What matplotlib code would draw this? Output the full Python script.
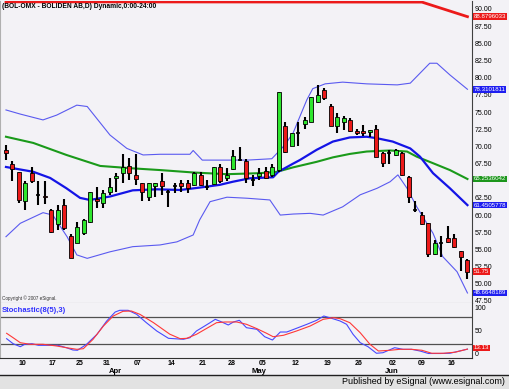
import numpy as np
import matplotlib
matplotlib.use('Agg')
import matplotlib.pyplot as plt
import matplotlib.transforms as mtransforms
from matplotlib.patches import Rectangle
from matplotlib.lines import Line2D

# daily OHLC, one entry per trading day
opens = [69.5, 67.5, 66.2, 62.0, 66.1, 62.9, 62.8, 60.7, 58.7, 61.4,
         56.9, 56.0, 57.4, 59.0, 62.4, 61.8, 63.3, 65.4, 66.1, 67.1,
         65.8, 64.6, 62.7, 64.3, 64.9, 63.4, 64.3, 64.6, 64.6, 64.4,
         65.8, 64.1, 64.5, 67.0, 65.4, 66.7, 68.0, 67.9, 65.1, 65.7,
         66.4, 65.8, 66.6, 72.9, 70.1, 72.0, 73.3, 73.6, 76.4, 78.2,
         75.9, 73.0, 73.5, 73.9, 72.3, 72.2, 72.1, 72.6, 69.1, 69.0,
         68.7, 69.1, 65.6, 60.8, 60.0, 58.9, 54.3, 56.0, 56.6, 56.6,
         54.7, 53.4]
highs = [70.2, 67.9, 66.3, 64.9, 67.0, 64.9, 64.9, 60.9, 61.4, 62.4,
         57.3, 59.0, 59.5, 63.4, 64.1, 63.7, 65.4, 66.1, 68.9, 68.3,
         68.9, 64.6, 64.6, 64.6, 66.1, 63.7, 64.6, 65.1, 65.1, 66.3,
         66.2, 65.1, 67.0, 67.4, 66.8, 69.5, 69.9, 68.2, 65.8, 66.8,
         67.0, 67.5, 77.9, 73.5, 72.0, 73.5, 74.3, 77.2, 78.9, 78.5,
         76.2, 74.9, 74.4, 74.2, 72.6, 73.1, 72.4, 73.1, 69.2, 69.4,
         69.6, 69.2, 65.7, 62.0, 60.4, 58.9, 56.4, 56.9, 58.4, 57.3,
         54.8, 53.6]
lows = [68.0, 64.9, 61.7, 60.7, 64.7, 61.5, 61.6, 57.4, 57.8, 57.8,
        53.7, 55.9, 57.1, 58.8, 61.0, 61.0, 62.9, 63.4, 64.7, 65.1,
        64.4, 62.1, 62.0, 62.7, 62.9, 61.2, 63.2, 63.4, 63.2, 64.2,
        64.2, 63.6, 64.4, 64.7, 64.9, 66.6, 67.8, 64.7, 64.2, 65.1,
        65.3, 65.6, 66.3, 69.1, 70.0, 70.1, 72.5, 73.5, 76.3, 76.8,
        72.9, 72.0, 72.4, 72.1, 71.7, 71.5, 71.4, 68.4, 67.0, 67.5,
        68.6, 65.7, 61.7, 60.5, 58.6, 53.9, 54.2, 53.9, 56.0, 55.2,
        51.9, 50.7]
closes = [69.0, 66.7, 62.2, 64.7, 64.9, 62.9, 62.6, 57.5, 60.8, 58.1,
          53.8, 58.2, 59.3, 63.4, 62.0, 63.2, 64.1, 65.7, 67.0, 66.1,
          65.3, 63.3, 64.6, 64.6, 64.2, 63.4, 64.3, 64.2, 63.9, 66.1,
          64.4, 64.1, 67.0, 64.9, 65.8, 68.6, 68.0, 65.4, 65.1, 66.1,
          65.4, 67.0, 77.9, 69.2, 72.0, 72.0, 73.9, 77.2, 77.5, 77.1,
          72.9, 74.3, 74.1, 72.3, 72.0, 71.9, 72.4, 68.5, 67.6, 69.0,
          69.4, 65.8, 62.7, 60.8, 58.7, 54.4, 56.0, 56.0, 56.1, 55.4,
          53.9, 51.75]

# study lines (x = bar number)
ma_x = [0, 4.2, 6.8, 9.3, 11.4, 12.9, 16.0, 19.5, 23.2, 26.8, 29.8, 32.9,
        34.9, 37.5, 41.1, 41.9, 44.2, 45.2, 47.8, 50.3, 52.9, 55.5, 57.0,
        59.5, 62.2, 63.7, 65.7, 68.3, 71]
ma_vals = [67.0, 66.3, 65.4, 63.9, 62.5, 62.2, 62.7, 63.6, 63.75, 63.65,
           64.0, 64.4, 64.85, 65.35, 65.5, 66.3, 67.5, 68.0, 69.5, 70.7,
           71.3, 71.4, 71.2, 70.7, 69.7, 68.5, 66.1, 63.9, 61.45]

slow_x = [0, 4.2, 9.3, 14.5, 19.5, 23.7, 28.8, 34.0, 39.1, 41.7, 44.2, 47.8,
          50.3, 52.9, 55.5, 59.1, 61.7, 63.2, 65.7, 68.3, 71]
slow_vals = [71.4, 70.5, 68.75, 67.15, 66.8, 66.55, 66.2, 65.95, 66.1, 66.3,
             66.95, 67.75, 68.4, 68.9, 69.25, 69.4, 69.25, 68.5, 67.55,
             66.55, 65.25]

upper_x = [0, 2.2, 5.7, 7.8, 10.9, 12.5, 16.0, 18.6, 21.1, 23.7, 28.3, 28.8,
           30.2, 37.1, 40.9, 42.9, 44.2, 45.2, 46.3, 47.2, 49.1, 51.8, 55.5,
           60.2, 62.2, 65.2, 66.3, 68.3, 71]
upper_vals = [75.3, 74.7, 73.85, 74.55, 76.0, 75.8, 71.65, 69.7, 68.75, 68.85,
              68.85, 69.4, 68.0, 68.0, 68.2, 70.2, 72.0, 74.3, 76.8, 78.4,
              79.1, 79.35, 79.1, 78.95, 79.2, 82.1, 82.1, 80.4, 78.31]

lower_x = [0, 2.2, 5.7, 7.2, 9.4, 10.9, 12.5, 16.0, 19.5, 23.7, 26.3, 28.8,
           29.8, 31.4, 34.0, 37.1, 40.6, 42.2, 44.2, 46.8, 48.8, 51.8, 54.5,
           57.1, 59.1, 60.3, 61.7, 63.2, 65.7, 67.2, 69.4, 71]
lower_vals = [56.85, 58.8, 60.35, 60.0, 56.85, 54.2, 53.7, 54.65, 55.4, 55.65,
              56.1, 57.1, 59.3, 61.95, 62.6, 62.45, 62.2, 60.0, 60.15, 60.25,
              60.0, 61.2, 62.95, 63.9, 64.85, 65.85, 63.9, 61.2, 57.35, 53.95,
              51.75, 48.66]

red_x = [0, 64, 71]
red_vals = [92.0, 91.0, 88.88]

# stochastic %K / %D
k_x = [0.1, 1.1, 2.2, 2.9, 4.0, 5.0, 6.8, 8.0, 9.3, 10.3, 11.0, 12.4, 14.0,
       15.5, 16.8, 17.5, 18.8, 20.1, 21.6, 23.2, 25.0, 27.3, 28.3, 29.3,
       30.4, 31.4, 32.2, 33.2, 34.2, 35.0, 35.9, 37.0, 38.6, 39.8, 41.0,
       42.2, 43.2, 44.7, 46.3, 47.8, 48.9, 49.8, 51.4, 52.4, 53.4, 54.5,
       55.7, 57.0, 58.0, 59.8, 61.1, 62.4, 63.7, 65.0, 66.8, 68.3, 69.8, 71]
k_vals = [32.2, 21.3, 14.8, 20.0, 21.3, 17.8, 17.8, 17.8, 12.6, 7.6, 7.0,
          20.0, 41.7, 70.7, 90.2, 93.9, 93.9, 85.2, 67.0, 48.9, 33.0, 30.9,
          34.3, 48.9, 58.3, 67.0, 74.3, 68.5, 62.0, 68.5, 72.2, 56.1, 52.6,
          36.5, 29.3, 46.7, 46.7, 54.8, 63.5, 72.2, 81.5, 77.8, 70.7, 63.5,
          41.7, 23.5, 14.8, 0.5, 1.7, 12.6, 9.1, 9.1, 5.4, 0.0, 0.0, 0.5,
          5.4, 9.5]
d_x = [0.1, 1.1, 2.2, 3.7, 5.7, 7.8, 9.3, 10.9, 11.9, 13.4, 15.0, 16.5,
       18.0, 19.3, 20.6, 22.7, 25.2, 26.8, 27.8, 29.3, 30.9, 32.4, 33.7,
       35.5, 37.0, 38.6, 40.1, 41.1, 42.7, 44.7, 46.8, 48.8, 50.4, 51.4,
       52.9, 54.5, 56.0, 57.3, 59.1, 60.6, 62.4, 64.0, 65.5, 67.3, 69.1, 71]
d_vals = [43.9, 34.3, 23.5, 20.0, 20.0, 16.3, 12.6, 9.1, 10.4, 30.9, 59.8,
          81.5, 91.7, 92.4, 85.2, 67.0, 42.0, 32.2, 33.0, 41.7, 54.8, 67.0,
          68.5, 68.5, 63.5, 54.0, 43.9, 36.5, 39.6, 48.9, 59.8, 74.3, 77.8,
          75.7, 67.0, 45.2, 20.0, 5.4, 7.0, 9.1, 9.1, 7.0, 0.5, 0.5, 2.8, 9.5]

tick_pos = [2.5, 7.1, 11.4, 15.5, 20.3, 25.5, 30.3, 34.8, 39.5, 44.6, 49.5,
            54.3, 59.5, 64.0, 68.6]
tick_labels = ['10', '17', '25', '31', '07', '14', '21', '28', '05', '12',
               '19', '26', '02', '09', '16']
months = ['Apr', 'May', 'Jun']
month_pos = [16.8, 38.9, 59.4]

BG = '#F3F2F6'
RED = '#EC1A1A'
GREEN = '#2EE62E'
W, H = 509, 389


def rect(x0, y0, x1, y1):
    return [x0 / W, 1 - y1 / H, (x1 - x0) / W, (y1 - y0) / H]


fig = plt.figure(figsize=(W / 100, H / 100), dpi=100)
fig.patch.set_facecolor(BG)
plt.rcParams['font.family'] = ['Liberation Sans', 'DejaVu Sans']

ax = fig.add_axes(rect(0, 1, 472, 303))
axs = fig.add_axes(rect(0, 303, 472, 358), sharex=ax)
for a in (ax, axs):
    a.set_facecolor(BG)
    a.spines['top'].set_visible(False)
    a.spines['left'].set_color('#B0B0B0')
    a.spines['right'].set_color('#404040')
    a.yaxis.tick_right()
    a.tick_params(axis='y', length=0, pad=2, labelsize=5)
ax.spines['bottom'].set_color('#A0A0A0')
axs.spines['bottom'].set_color('#303030')

ytop = 91.16
ax.set_xlim(-0.92, 71.7)
ax.set_ylim(47.2, ytop)

# studies
ax.plot(upper_x, upper_vals, color='#5A5AF0', lw=0.8, zorder=2)
ax.plot(lower_x, lower_vals, color='#5A5AF0', lw=0.8, zorder=2)
ax.plot(slow_x, slow_vals, color='#1A9A1A', lw=1.5, zorder=2)
ax.plot(ma_x, ma_vals, color='#1414E6', lw=1.6, zorder=2)
ax.plot(red_x, np.minimum(red_vals, ytop - 0.12), color=RED, lw=2.0, zorder=2)

# candles
x = np.arange(len(opens))
o, h, l, c = map(np.array, (opens, highs, lows, closes))
up, dn, fl = c > o, c < o, c == o
ax.vlines(x, l, h, color='black', lw=1.5, zorder=3)
ax.bar(x[up], (c - o)[up], bottom=o[up], width=0.62, color=GREEN,
       edgecolor='black', lw=0.6, zorder=4)
ax.bar(x[dn], (o - c)[dn], bottom=c[dn], width=0.62, color=RED,
       edgecolor='black', lw=0.6, zorder=4)
ax.hlines(c[fl], x[fl] - 0.31, x[fl] + 0.31, color='black', lw=1.2, zorder=4)

yt = np.arange(47.5, 90.01, 2.5)
ax.set_yticks(yt)
# 65.00 sits behind the green value box in the original
ax.set_yticklabels(['' if v == 65.0 else '%.2f' % v for v in yt])
ax.tick_params(axis='x', bottom=False, labelbottom=False)

tr = mtransforms.blended_transform_factory(ax.transAxes, ax.transData)
for val, txt, col in [(88.88, '88.8796033', RED), (78.31, '78.3101811', '#1E1EF0'),
                      (65.25, '65.2536042', '#1C961C'), (61.45, '61.4505778', '#1E1EF0'),
                      (51.75, '51.75', RED), (48.66, '48.6648189', '#1E1EF0')]:
    ax.text(1.003, val, txt, transform=tr, fontsize=4.4, color='white', va='center',
            ha='left', clip_on=False, zorder=10,
            bbox=dict(facecolor=col, edgecolor='none', pad=0.6))

# stochastic panel
axs.set_ylim(-9.8, 109.8)
axs.axhline(80, color='#505050', lw=0.9)
axs.axhline(20, color='#505050', lw=0.9)
axs.plot(k_x, k_vals, color='#4848FF', lw=0.8)
axs.plot(d_x, d_vals, color='#FF3838', lw=0.8)
axs.set_yticks([0, 50, 100])
axs.set_yticklabels(['0', '50', '100'])
trs = mtransforms.blended_transform_factory(axs.transAxes, axs.transData)
axs.text(1.003, 12, '13.13', transform=trs, fontsize=4.4, color='white',
         va='center', ha='left', clip_on=False,
         bbox=dict(facecolor=RED, edgecolor='none', pad=0.5))
axs.text(0.004, 0.86, 'Stochastic(8(5),3)', transform=axs.transAxes,
         fontsize=5.5, fontweight='bold', color='#3030FF', va='center')

axs.set_xticks(tick_pos)
axs.set_xticklabels(tick_labels, fontsize=5, fontweight='bold')
axs.tick_params(axis='x', length=0, pad=1.5)
trx = mtransforms.blended_transform_factory(axs.transData, axs.transAxes)
for mp, mn in zip(month_pos, months):
    axs.text(mp, -0.24, mn, transform=trx, fontsize=5.5, fontweight='bold',
             ha='center', va='center')

# header / footer
fig.text(2 / W, 1 - 7 / H, '(BOL-OMX - BOLIDEN AB,D) Dynamic,0:00-24:00',
         fontsize=4.8, fontweight='bold', va='center', ha='left')
fig.text(2 / W, 1 - 298.5 / H, 'Copyright \u00a9 2007 eSignal.', fontsize=3.3,
         va='center', ha='left', color='#303030')
fig.patches.append(Rectangle((0, 0), 1, 14 / H, transform=fig.transFigure,
                             facecolor='#E2E2E2', edgecolor='none', zorder=0))
fig.lines.append(Line2D([0, 1], [14 / H, 14 / H], transform=fig.transFigure,
                        color='#202020', lw=1))
fig.text(505 / W, 1 - 381 / H, 'Published by eSignal (www.esignal.com)',
         fontsize=6.5, va='center', ha='right')

fig.savefig('out.png', dpi=100, facecolor=BG)
